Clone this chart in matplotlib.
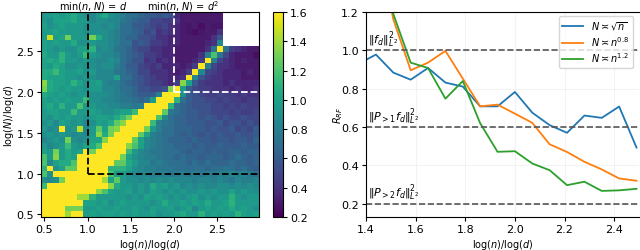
import numpy as np
import matplotlib
matplotlib.use('Agg')
import matplotlib.pyplot as plt

nan = np.nan
Y = 1.6

# heatmap, first row is the top one
rows = [
[.95,.95,1.0,.95,1.0,1.05,.95,.9,.85,.95,1.05,.9,.85,.8,.7,.7,.65,.6,.6,.55,.6,.55,.35,.3,.3,.3,.3,.3,.3,.3,nan,nan,nan,nan,nan,nan],
[.95,.9,1.0,1.0,1.0,1.05,.95,.95,.85,.9,.9,.85,.85,.75,.7,.65,.6,.6,.5,.5,.45,.45,.4,.3,.3,.3,.3,.3,.3,.3,nan,nan,nan,nan,nan,nan],
[1.0,.9,.95,1.0,.95,.95,.95,.9,.9,.9,.85,.9,.85,.7,.7,.6,.6,.55,.5,.45,.5,.4,.35,.3,.28,.3,.25,.3,.28,.28,nan,nan,nan,nan,nan,nan],
[.95,.95,1.0,.95,.95,.95,.95,.9,.9,.9,.9,.85,.8,.7,.7,.65,.6,.5,.55,.4,.45,.4,.35,.3,.28,.25,.28,.3,.3,.4,nan,nan,nan,nan,nan,nan],
[.95,1.5,.95,1.0,1.3,.95,.95,.95,1.3,1.05,.9,.85,.8,.7,.65,.65,.55,.55,.5,.4,.4,.35,.35,.3,.3,.3,.3,.3,.4,.55,nan,nan,nan,nan,nan,nan],
[1.0,.95,1.0,.95,.95,1.05,.9,.9,.95,.9,.9,.85,.8,.7,.7,.55,.6,.55,.45,.45,.4,.35,.35,.3,.3,.3,.3,.35,.4,.85,nan,nan,nan,nan,nan,nan],
[1.0,.95,.9,.95,.9,.9,1.0,1.0,1.1,.85,.9,.85,.75,.7,.65,.55,.5,.5,.4,.4,.35,.35,.3,.3,.3,.3,.3,.4,.75,Y,.75,.45,.4,.35,.3,.3],
[1.05,.95,.95,1.1,.95,.9,.95,1.15,.95,.9,.85,.85,.8,.7,.65,.6,.55,.45,.45,.4,.35,.35,.3,.3,.3,.3,.4,.8,1.2,.75,.5,.35,.3,.3,.3,.25],
[1.0,1.05,1.0,1.1,.95,.95,.9,.95,.9,.85,.85,.9,.85,.7,.65,.55,.55,.4,.45,.35,.4,.35,.3,.3,.3,.35,.45,Y,.8,.5,.4,.35,.3,.35,.3,.3],
[1.0,.95,1.05,1.0,.9,.9,.95,.9,.9,.85,.9,.9,.8,.7,.6,.6,.5,.45,.4,.45,.35,.35,.35,.3,.35,.45,Y,.8,.5,.4,.4,.35,.3,.3,.3,.3],
[1.05,1.05,1.15,1.0,.95,.95,1.0,.9,.95,.85,.85,.85,.75,.7,.65,.6,.5,.5,.4,.4,.4,.35,.3,.35,.45,Y,.85,.5,.45,.4,.35,.35,.35,.3,.35,.3],
[1.05,1.0,1.0,1.0,.95,.95,.9,.95,.9,.85,.85,.85,1.0,.7,.7,.6,.55,.5,.45,.4,.4,.35,.35,.4,Y,.85,.55,.45,.4,.4,.35,.35,.35,.3,.3,.3],
[1.35,1.05,1.0,1.0,.95,1.1,1.0,.9,.95,1.0,.85,.8,.8,.7,.65,.6,.55,.5,.45,.45,.4,.35,.45,1.35,1.0,.6,.45,.4,.4,.4,.35,.4,.35,.35,.35,.35],
[1.3,1.05,1.0,.95,1.0,.95,.95,.9,.95,.95,.85,.85,.8,.7,.7,.65,.55,.55,.5,.5,.55,1.35,Y,.95,.6,.5,.45,.45,.4,.4,.4,.35,.4,.35,.35,.4],
[1.05,1.0,.95,1.0,.95,.9,.95,.95,.9,.9,.9,.85,.8,.75,.7,.65,.6,.6,.6,.8,Y,Y,Y,.9,.6,.55,.5,.45,.45,.5,.45,.45,.4,.45,.4,.4],
[1.0,.95,1.0,.95,1.0,.95,.95,1.15,.9,.9,.85,.85,.8,.75,.75,.7,.65,.7,.95,Y,Y,Y,1.1,.7,.6,.55,.55,.5,.5,.45,.5,.45,.45,.4,.45,.45],
[1.0,1.05,.95,1.1,.95,.95,1.2,.95,.95,.9,.9,.85,.85,.8,.8,.75,.8,Y,Y,Y,Y,1.1,.7,.65,.6,.55,.55,.55,.5,.5,.45,.5,.45,.5,.45,.45],
[.95,1.0,1.0,.95,.95,1.15,.95,.95,1.0,.95,.9,.9,.95,1.0,1.0,1.15,Y,Y,Y,Y,1.25,.75,.7,.65,.6,.6,.55,.55,.5,.5,.5,.45,.5,.45,.45,.5],
[.95,.9,1.0,.95,1.0,.95,.95,.9,.95,1.0,1.0,.95,1.05,1.15,1.3,Y,Y,Y,Y,1.2,.85,.7,.65,.65,.6,.6,.55,.6,.55,.5,.55,.5,.5,.55,.5,.5],
[.9,.95,.85,1.0,.95,.9,.95,.85,.9,1.0,.95,1.05,1.25,1.35,Y,Y,Y,Y,1.15,.8,.75,.7,.65,.65,.6,.6,.6,.55,.55,.6,.5,.55,.55,.5,.55,.5],
[.95,.85,.9,Y,.9,.95,1.45,.85,.95,1.25,1.0,1.3,1.35,Y,Y,Y,Y,1.3,.95,.8,.7,.7,.65,.65,.65,.6,.6,.55,.6,.55,.55,.6,.5,.55,.5,.6],
[.9,.95,.9,.95,.9,.85,.9,.85,.95,1.35,1.05,1.3,Y,Y,Y,Y,1.25,1.0,.8,.75,.7,.7,.65,.6,.65,.6,.55,.6,.55,.6,.55,.55,.6,.55,.55,.6],
[.85,.9,.95,.9,1.3,.9,.85,.9,1.0,1.0,1.35,Y,Y,Y,Y,1.25,1.0,.85,.8,.75,.7,.65,.65,.65,.6,.65,.6,.6,.55,.6,.6,.55,.6,.6,.55,.65],
[.95,.85,.9,.95,1.15,.95,.9,1.0,1.05,1.2,Y,Y,Y,Y,1.35,1.2,1.0,.85,.8,.75,.7,.7,.65,.65,.65,.6,.65,.6,.6,.65,.6,.6,.6,.65,.6,.6],
[1.0,.95,1.3,.95,1.05,.95,1.0,Y,1.3,Y,Y,Y,Y,Y,1.15,.95,.85,.8,.75,.75,.7,.7,.7,.65,.6,.65,.65,.6,.65,.6,.6,.65,.65,.6,.65,.65],
[1.2,.95,1.35,.95,1.05,1.0,Y,Y,Y,Y,Y,Y,Y,1.3,1.0,.9,.85,.8,.8,.75,.7,.7,.65,.7,.65,.65,.6,.65,.65,.65,.6,.65,.7,.65,.6,.65],
[1.2,.85,1.0,1.05,1.05,1.2,Y,Y,Y,Y,Y,Y,1.25,1.25,1.05,.95,.85,.85,.75,.8,.75,.7,.7,.7,.65,.7,.65,.7,.65,.65,.65,.7,.65,.65,.6,.65],
[1.1,Y,.9,1.0,1.25,1.25,Y,Y,Y,Y,Y,1.1,1.1,1.1,1.0,.9,.85,.8,.8,.75,.75,.75,.7,.7,.7,.7,.7,.65,.7,.7,.75,.7,.65,.7,.65,.6],
[1.2,.9,Y,Y,Y,Y,Y,Y,Y,Y,Y,1.2,.95,.95,.9,.85,.85,.85,.8,.8,.8,.75,.8,.8,.75,.8,.75,.8,.75,.8,.8,.85,.8,.85,.75,.7],
[.9,.85,.9,1.3,Y,Y,Y,Y,Y,Y,1.4,1.0,1.25,.95,.9,.9,.85,.9,.85,.9,.85,.9,.85,.85,.85,.8,.85,.85,.8,.85,.8,.75,.85,.8,.8,.85],
[1.15,Y,Y,Y,Y,Y,Y,Y,Y,Y,Y,1.35,1.05,.95,.95,.9,.95,.9,1.05,.95,1.0,.9,.95,.85,.9,.85,.9,.85,.85,.9,.9,.85,.9,.85,.9,.85],
[Y,Y,Y,Y,Y,Y,Y,Y,Y,1.35,1.2,1.0,.95,.95,1.0,.9,.95,.9,1.0,.95,.9,.95,.9,.95,.9,.9,.95,.9,.95,.9,.9,1.0,.9,.95,.9,.9],
[Y,Y,Y,Y,Y,Y,1.4,1.4,1.1,.95,.95,.95,.95,.95,.9,.95,.9,1.0,.95,1.0,.95,.9,.95,.9,.95,1.0,.9,.95,.9,.95,.95,1.1,.95,.9,.95,.95],
[Y,Y,Y,Y,Y,Y,Y,1.0,1.0,.95,1.0,.9,.95,1.0,.95,.95,.95,.95,.9,.95,1.05,.95,.95,1.0,.95,1.0,.95,1.05,.95,.95,1.0,1.1,.95,.95,.95,.95],
[Y,Y,Y,Y,1.3,1.3,1.3,.95,.95,1.0,.95,.95,1.0,.95,.95,1.0,.95,.9,1.0,.95,.95,1.0,.9,.95,1.0,.85,.95,1.0,.95,1.0,.95,1.05,.95,1.0,.95,.9],
[Y,Y,Y,Y,1.4,Y,Y,.95,1.0,.95,1.0,1.0,.95,1.0,.95,1.0,.95,.95,1.0,.9,.95,.95,1.0,1.05,.95,.95,1.1,.95,1.0,.95,1.0,.95,1.1,1.0,.95,1.0],
]

n_ratio = [1.37, 1.44, 1.51, 1.58, 1.65, 1.72, 1.79, 1.86, 1.93, 2.0, 2.07, 2.14, 2.21, 2.28, 2.35, 2.42, 2.49]
r_sqrt = [.93, .978, .884, .847, .908, .832, .811, .708, .708, .783, .675, .61, .57, .66, .648, .707, .493]
r_08 = [2.1, 1.62, 1.162, .896, .936, .997, .853, .708, .717, .67, .622, .51, .47, .419, .379, .332, .32]
r_12 = [2.1, 1.62, 1.19, .936, .908, .748, .84, .62, .471, .474, .41, .375, .297, .315, .267, .27, .278]
levels = [1.0, 0.6, 0.2]
level_names = [r'$\Vert f_d\Vert^2_{L^2}$', r'$\Vert P_{>1} f_d\Vert^2_{L^2}$', r'$\Vert P_{>2} f_d\Vert^2_{L^2}$']

W, H = 640, 251
fig = plt.figure(figsize=(W/100, H/100), dpi=100)

def box(l, t, r, b):
    return [l/W, 1-b/H, (r-l)/W, (b-t)/H]

# left panel
ax = fig.add_axes(box(41, 13, 259, 218))
xe = np.linspace(0.46, 2.98, 37)
ye = np.linspace(0.467, 2.985, 37)
mat = np.array(rows)[::-1]
im = ax.pcolormesh(xe, ye, mat, cmap='viridis', vmin=0.2, vmax=1.6)
ax.plot([1, 1], [1, 2.985], 'k--', lw=1.3)
ax.plot([1, 2.98], [1, 1], 'k--', lw=1.3)
ax.plot([2, 2], [2, 2.985], '--', color='white', lw=1.3)
ax.plot([2, 2.98], [2, 2], '--', color='white', lw=1.3)
ax.set_xticks([0.5, 1, 1.5, 2, 2.5])
ax.set_yticks([0.5, 1, 1.5, 2, 2.5])
ax.tick_params(labelsize=8, length=3, pad=2)
ax.set_xlabel('log($n$)/log($d$)', fontsize=7, labelpad=2)
ax.set_ylabel('log($N$)/log($d$)', fontsize=7, labelpad=0)
ax.text(1.06, 3.06, r'min($n$, $N$) = $d$', fontsize=7, ha='center', va='center')
ax.text(2.11, 3.06, r'min($n$, $N$) = $d^2$', fontsize=7, ha='center', va='center')

cax = fig.add_axes(box(273, 13, 283, 218))
cb = fig.colorbar(im, cax=cax)
cb.set_ticks([0.2, 0.4, 0.6, 0.8, 1.0, 1.2, 1.4, 1.6])
cb.ax.tick_params(labelsize=8, length=3, pad=2)

# right panel
ax2 = fig.add_axes(box(366, 13, 639, 218))
ax2.plot(n_ratio, r_sqrt, color='C0', lw=1.3, label=r'$N \asymp \sqrt{n}$')
ax2.plot(n_ratio, r_08, color='C1', lw=1.3, label=r'$N \asymp n^{0.8}$')
ax2.plot(n_ratio, r_12, color='C2', lw=1.3, label=r'$N \asymp n^{1.2}$')
for lev, name in zip(levels, level_names):
    ax2.axhline(lev, color='#555555', ls='--', lw=1.2)
    ax2.text(1.41, lev+0.008, name, fontsize=8, va='bottom')
ax2.set_xlim(1.4, 2.5)
ax2.set_ylim(0.131, 1.2)
ax2.set_xticks([1.4, 1.6, 1.8, 2.0, 2.2, 2.4])
ax2.set_yticks([0.2, 0.4, 0.6, 0.8, 1.0, 1.2])
ax2.grid(alpha=0.15)
ax2.spines['right'].set_visible(False)
ax2.tick_params(labelsize=8, length=3, pad=2)
ax2.set_xlabel('log($n$)/log($d$)', fontsize=7, labelpad=2)
ax2.set_ylabel('$R_{RF}$', fontsize=7, labelpad=-3)
ax2.legend(loc='upper right', bbox_to_anchor=(0.977, 0.982), fontsize=7, borderaxespad=0, labelspacing=0.25, handlelength=2.2, borderpad=0.35)

fig.savefig('out.png', dpi=100)
